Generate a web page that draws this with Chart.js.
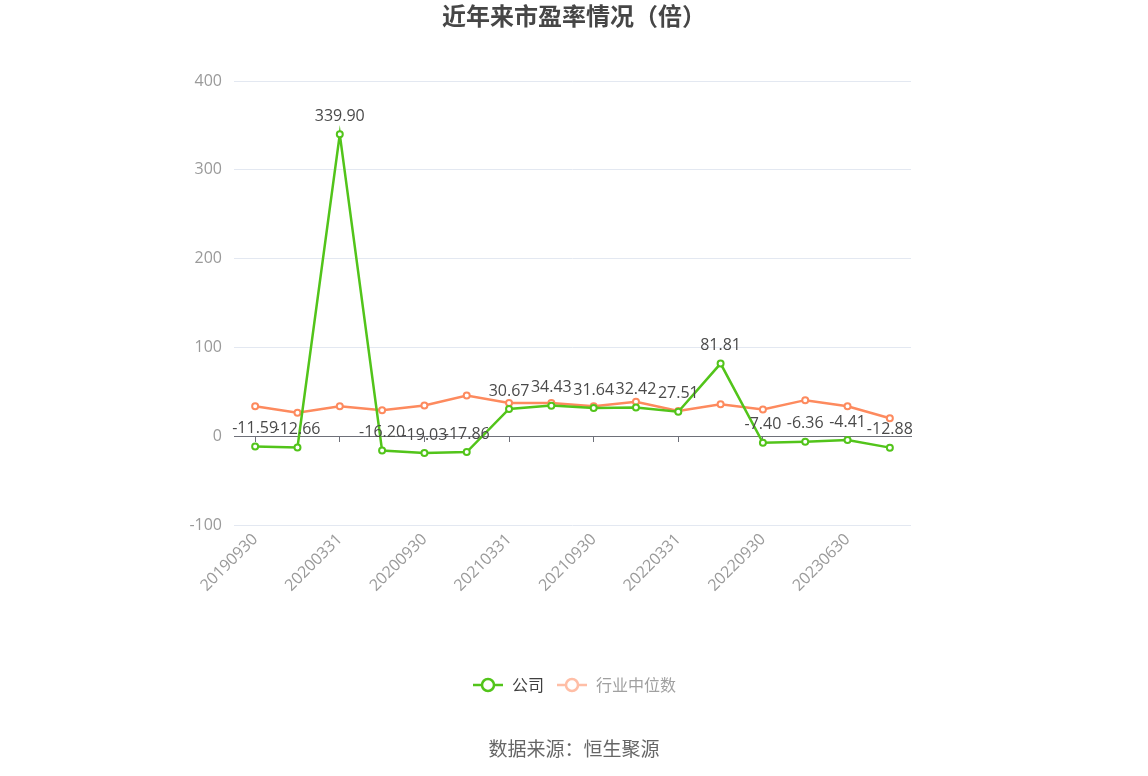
<!DOCTYPE html>
<html>
<head>
<meta charset="utf-8">
<script src="https://cdn.jsdelivr.net/npm/chart.js@4/dist/chart.umd.min.js"></script>
<style>
  html, body { margin: 0; padding: 0; background: #fff; }
  #wrap { position: relative; width: 1148px; height: 776px; }
  #title { position: absolute; left: 0; top: -3px; width: 100%; text-align: center;
    font: bold 24px "Noto Sans CJK SC", "Noto Sans", sans-serif; color: #464646; }
  #source { position: absolute; left: 0; top: 734px; width: 100%; text-align: center;
    font: 19px "Noto Sans CJK SC", "Noto Sans", sans-serif; color: #666; }
</style>
</head>
<body>
<div id="wrap">
  <canvas id="pe" width="1148" height="776"></canvas>
  <div id="title">近年来市盈率情况（倍）</div>
  <div id="source">数据来源：恒生聚源</div>
</div>
<script>
var dates = ["20190930", "20191231", "20200331", "20200630", "20200930", "20201231",
  "20210331", "20210630", "20210930", "20211231", "20220331", "20220630",
  "20220930", "20230331", "20230630", "20230930"];
var company = [-11.59, -12.66, 339.90, -16.20, -19.03, -17.86, 30.67, 34.43,
  31.64, 32.42, 27.51, 81.81, -7.40, -6.36, -4.41, -12.88];
var industry = [33.8, 26.3, 33.8, 29.3, 34.6, 45.8, 37.5, 37.5,
  33.8, 38.7, 28.5, 36.0, 30.0, 40.6, 33.8, 20.3];
var yTicks = [-100, 0, 100, 200, 300, 400];

var green = "#52c41a";
var orange = "#fd8a5e";
var font = "'Open Sans', 'Noto Sans CJK SC', sans-serif";
var cjk = "'Noto Sans CJK SC', 'Noto Sans', sans-serif";

// legend marker: short line with a hollow circle, like the original
function legendIcon(color) {
    var c = document.createElement("canvas");
    c.width = 32; c.height = 16;
    var g = c.getContext("2d");
    g.strokeStyle = color;
    g.lineWidth = 2.5;
    g.beginPath(); g.moveTo(1, 8); g.lineTo(31, 8); g.stroke();
    g.fillStyle = "#fff";
    g.beginPath(); g.arc(16, 8, 6, 0, Math.PI * 2); g.fill(); g.stroke();
    return c;
}

var valueLabels = {
    id: "valueLabels",
    afterDatasetsDraw: function (chart) {
        var ctx = chart.ctx;
        var meta = chart.getDatasetMeta(0);
        ctx.save();
        ctx.font = "16px " + font;
        ctx.fillStyle = "#4a4a4a";
        ctx.textAlign = "center";
        ctx.textBaseline = "bottom";
        meta.data.forEach(function (pt, i) {
            ctx.fillText(company[i].toFixed(2), pt.x, pt.y - 10);
        });
        ctx.restore();
    }
};

new Chart(document.getElementById("pe").getContext("2d"), {
    type: "line",
    data: {
        labels: dates,
        datasets: [
            {
                label: "公司",
                data: company,
                borderColor: green,
                backgroundColor: "#fff",
                borderWidth: 2.5,
                pointRadius: 3,
                pointBorderWidth: 2,
                pointBackgroundColor: "#fff",
                pointBorderColor: green,
                tension: 0
            },
            {
                label: "行业中位数",
                data: industry,
                borderColor: orange,
                backgroundColor: "#fff",
                borderWidth: 2.5,
                pointRadius: 3,
                pointBorderWidth: 2,
                pointBackgroundColor: "#fff",
                pointBorderColor: orange,
                tension: 0
            }
        ]
    },
    options: {
        responsive: false,
        animation: false,
        layout: { padding: { left: 0, right: 0, top: 81, bottom: 73 } },
        plugins: {
            title: { display: false },
            tooltip: { enabled: false },
            legend: {
                position: "bottom",
                labels: {
                    usePointStyle: true,
                    pointStyleWidth: 32,
                    padding: 12,
                    font: { family: cjk, size: 16 },
                    generateLabels: function (chart) {
                        return [
                            { text: "公司", pointStyle: legendIcon(green), fontColor: "#404040",
                              strokeStyle: green, fillStyle: "#fff", datasetIndex: 0, lineWidth: 0 },
                            { text: "行业中位数", pointStyle: legendIcon("#ffbea6"), fontColor: "#a0a0a0",
                              strokeStyle: orange, fillStyle: "#fff", datasetIndex: 1, lineWidth: 0 }
                        ];
                    }
                }
            }
        },
        scales: {
            x: {
                offset: true,
                grid: { display: false },
                border: { display: false },
                ticks: {
                    autoSkip: false,
                    maxRotation: 45,
                    minRotation: 45,
                    padding: -3,
                    color: "#9a9a9a",
                    font: { family: font, size: 16 },
                    callback: function (v, i) { return i % 2 === 0 ? dates[i] : ""; }
                },
                afterFit: function (s) { s.height = 140; }
            },
            x2: {
                type: "category",
                labels: dates,
                position: { y: 0 },
                offset: true,
                ticks: { display: false },
                grid: {
                    drawOnChartArea: false,
                    tickLength: 5,
                    tickColor: function (c) { return c.index % 2 === 0 ? "#6e7079" : "rgba(0,0,0,0)"; }
                },
                border: { display: true, color: "#6e7079", width: 1 }
            },
            y: {
                min: yTicks[0],
                max: yTicks[yTicks.length - 1],
                afterBuildTicks: function (s) {
                    s.ticks = yTicks.map(function (v) { return { value: v }; });
                },
                grid: { color: "#e3e8f1", drawTicks: false },
                border: { display: false },
                ticks: {
                    padding: 12,
                    color: "#9a9a9a",
                    font: { family: font, size: 16 }
                },
                afterFit: function (s) { s.width = 234; }
            },
            // empty right-hand axis that only reserves the right margin
            yRight: {
                position: "right",
                grid: { display: false },
                border: { display: false },
                ticks: { display: false },
                afterFit: function (s) { s.width = 237; }
            }
        }
    },
    plugins: [valueLabels]
});
</script>
</body>
</html>
